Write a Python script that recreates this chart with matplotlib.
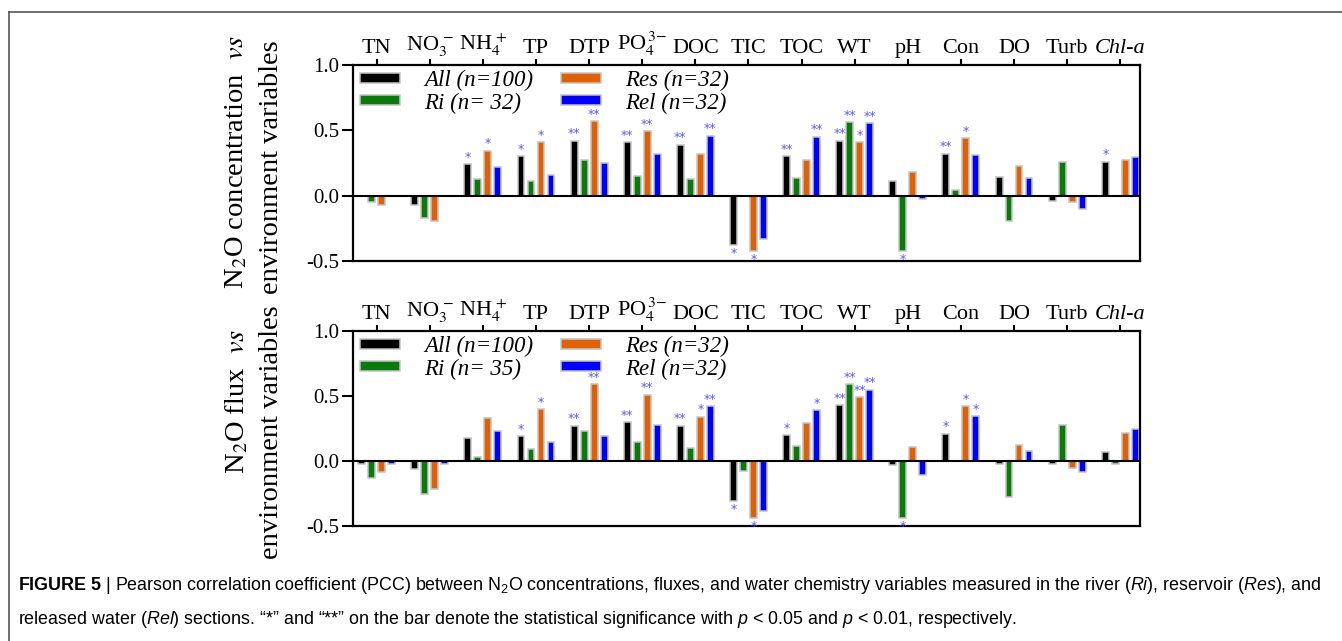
import numpy as np
import matplotlib.pyplot as plt
from matplotlib.lines import Line2D
from matplotlib.patches import Patch

plt.rcParams['font.family'] = ['Liberation Serif', 'DejaVu Serif']
plt.rcParams['mathtext.fontset'] = 'stix'
# custom math set is only used by the caption
plt.rcParams['mathtext.rm'] = 'Liberation Sans'
plt.rcParams['mathtext.it'] = 'Liberation Sans:italic'
plt.rcParams['mathtext.bf'] = 'Liberation Sans:bold'

cats = ['TN', r'NO$_3^{\,-}$', r'NH$_4^{\,+}$', 'TP', 'DTP', r'PO$_4^{\,3\!-}$', 'DOC', 'TIC',
        'TOC', 'WT', 'pH', 'Con', 'DO', 'Turb', 'Chl-a']

# N2O concentration vs variables
conc_all = [0.0, -0.07, 0.24, 0.30, 0.42, 0.41, 0.39, -0.38, 0.30, 0.42, 0.11, 0.32, 0.145, -0.04, 0.26]
conc_ri = [-0.046, -0.17, 0.125, 0.115, 0.27, 0.147, 0.13, 0.0, 0.135, 0.56, -0.42, 0.04, -0.19, 0.26, -0.006]
conc_res = [-0.07, -0.19, 0.345, 0.41, 0.57, 0.495, 0.32, -0.42, 0.27, 0.41, 0.185, 0.44, 0.225, -0.05, 0.275]
conc_rel = [0.0, -0.006, 0.22, 0.16, 0.25, 0.32, 0.46, -0.33, 0.45, 0.555, -0.028, 0.31, 0.135, -0.105, 0.295]
conc_stars = [
    ['', '', '*', '*', '**', '**', '**', '*', '**', '**', '', '**', '', '', '*'],
    ['', '', '', '', '', '', '', '', '', '**', '*', '', '', '', ''],
    ['', '', '*', '*', '**', '**', '', '*', '', '*', '', '*', '', '', ''],
    ['', '', '', '', '', '', '**', '', '**', '**', '', '', '', '', ''],
]

# N2O flux vs variables
flux_all = [-0.023, -0.06, 0.18, 0.19, 0.27, 0.30, 0.27, -0.305, 0.20, 0.43, -0.028, 0.21, -0.02, -0.026, 0.067]
flux_ri = [-0.133, -0.25, 0.033, 0.092, 0.23, 0.15, 0.10, -0.074, 0.118, 0.59, -0.44, 0.0, -0.28, 0.28, -0.026]
flux_res = [-0.082, -0.215, 0.33, 0.40, 0.59, 0.51, 0.34, -0.44, 0.29, 0.49, 0.108, 0.42, 0.126, -0.056, 0.218]
flux_rel = [-0.026, -0.026, 0.23, 0.15, 0.19, 0.28, 0.42, -0.385, 0.39, 0.55, -0.108, 0.345, 0.074, -0.087, 0.245]
flux_stars = [
    ['', '', '', '*', '**', '**', '**', '*', '*', '**', '', '*', '', '', ''],
    ['', '', '', '', '', '', '', '', '', '**', '*', '', '', '', ''],
    ['', '', '', '*', '**', '**', '*', '*', '', '**', '', '*', '', '', ''],
    ['', '', '', '', '', '', '**', '', '*', '**', '', '*', '', '', ''],
]

conc_labels = ['All (n=100)', 'Ri (n= 32)', 'Res (n=32)', 'Rel (n=32)']
flux_labels = ['All (n=100)', 'Ri (n= 35)', 'Res (n=32)', 'Rel (n=32)']
colors = ['#000000', '#0a7a0a', '#e06006', '#0000ff']
star_color = '#5a5aff'

fig = plt.figure(figsize=(13.42, 6.41), dpi=100)
ax1 = fig.add_axes([0.263, 0.5928, 0.5867, 0.3058])
ax2 = fig.add_axes([0.263, 0.1794, 0.5867, 0.3042])

x = np.arange(len(cats))
step = 0.188
width = 0.13


def panel(ax, series, stars, labels):
    for i, (vals, col) in enumerate(zip(series, colors)):
        xs = x + (i - 1.5) * step
        ax.bar(xs, vals, width, color=col, edgecolor='#c4c4c4', linewidth=1.1, zorder=2)
        for xx, v, s in zip(xs, vals, stars[i]):
            if not s:
                continue
            if v >= 0:
                ax.annotate(s, (xx, v), xytext=(0, 0.3), textcoords='offset points',
                            ha='center', va='bottom', color=star_color, fontsize=9,
                            family='DejaVu Sans')
            else:
                ax.annotate(s, (xx, v), xytext=(0, -1.5), textcoords='offset points',
                            ha='center', va='top', color=star_color, fontsize=9,
                            family='DejaVu Sans')
    ax.axhline(0, color='black', lw=1.5, zorder=3)
    ax.set_xlim(-0.446, 14.377)
    ax.set_ylim(-0.5, 1.0)
    ax.set_yticks([-0.5, 0.0, 0.5, 1.0])
    ax.set_yticklabels(['-0.5', '0.0', '0.5', '1.0'])
    ax.tick_params(axis='y', direction='out', length=8, width=1.5, labelsize=15, pad=2)
    ax.xaxis.tick_top()
    ax.set_xticks(x)
    ax.set_xticklabels(cats)
    ax.tick_params(axis='x', direction='out', length=4, width=1.5, labelsize=16, pad=1)
    ax.get_xticklabels()[-1].set_style('italic')
    for sp in ax.spines.values():
        sp.set_linewidth(1.6)
    handles = [Patch(facecolor=c, edgecolor='#c4c4c4', linewidth=1.1) for c in colors]
    ax.legend(handles, labels, ncol=2,
              loc='upper left', bbox_to_anchor=(0.006, 0.985), frameon=False,
              borderaxespad=0, borderpad=0.1, handlelength=1.75, handleheight=0.3,
              handletextpad=1.05, columnspacing=1.2, labelspacing=0.05,
              prop={'family': 'Liberation Serif', 'style': 'italic', 'size': 16.5})


panel(ax1, [conc_all, conc_ri, conc_res, conc_rel], conc_stars, conc_labels)
panel(ax2, [flux_all, flux_ri, flux_res, flux_rel], flux_stars, flux_labels)

# y labels, two lines each
fig.text(237 / 1342, 1 - 162 / 641, r'N$_2$O concentration  $\mathit{vs}$', rotation=90,
         ha='center', va='center', fontsize=20.5)
fig.text(271 / 1342, 1 - 167 / 641, 'environment variables', rotation=90,
         ha='center', va='center', fontsize=20.5)
fig.text(237 / 1342, 1 - 401 / 641, r'N$_2$O flux  $\mathit{vs}$', rotation=90,
         ha='center', va='center', fontsize=20.5)
fig.text(271 / 1342, 1 - 432 / 641, 'environment variables', rotation=90,
         ha='center', va='center', fontsize=20.5)

# figure frame lines (top and left only)
fig.add_artist(Line2D([9 / 1342, 1], [1 - 12 / 641, 1 - 12 / 641], color='#555555', lw=1.2))
fig.add_artist(Line2D([9 / 1342, 9 / 1342], [0, 1 - 12 / 641], color='#555555', lw=1.2))

cap1 = (r'$\mathbf{FIGURE\ 5}$ | Pearson correlation coefficient (PCC) between N$_2$O concentrations, '
        r'fluxes, and water chemistry variables measured in the river ($\mathit{Ri}$), reservoir '
        r'($\mathit{Res}$), and')
cap2 = (r'released water ($\mathit{Rel}$) sections. “*” and “**” on the bar denote the statistical '
        r'significance with $\mathit{p}$ < 0.05 and $\mathit{p}$ < 0.01, respectively.')
for txt, yy in [(cap1, 585), (cap2, 620)]:
    fig.text(18 / 1342, 1 - yy / 641, txt, ha='left', va='center', fontsize=12.9,
             family=['Liberation Sans', 'DejaVu Sans'], math_fontfamily='custom')

fig.savefig('out.png', dpi=100)
